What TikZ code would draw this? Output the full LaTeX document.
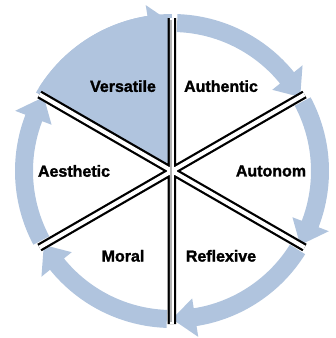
\documentclass[tikz,border=0pt]{standalone}
\usepackage{fontspec}
\setmainfont{Liberation Sans}
\newfontfamily\heavyfont{Liberation Sans}[BoldFeatures={FakeBold=1.6}]
\usetikzlibrary{calc}
\definecolor{ringblue}{RGB}{176,196,222}
\tikzset{
  sectorlabel/.style={font=\fontsize{16}{18}\selectfont\heavyfont\bfseries, inner sep=0pt},
  spokeout/.style={draw=black, line width=8.5},
  spokein/.style={draw=white, line width=4},
}

\begin{document}
\begin{tikzpicture}[x=1pt,y=1pt]
            \useasboundingbox (-172,-167) rectangle (164,171);
            \coordinate (c) at (0,0);
            \foreach \t/\n in {90/n,30/ne,-30/se,-90/s,-150/sw,150/nw} \coordinate (\n) at ($(c)+(\t:153)$);
            % shaded sector
            \fill[ringblue] (c) -- (90:157) arc[start angle=90, end angle=150, radius=157] -- cycle;
            % ring of arrows
            \foreach \a in {90,30,-30,-90,-150,-210} {
                \pgfmathsetmacro\b{\a-60}
                \fill[ringblue] (\a-2:139) arc[start angle=\a-2, end angle=\b+9, radius=139] -- (\b+9:129) -- (\b:148) -- (\b+9:168) -- (\b+9:157) arc[start angle=\b+9, end angle=\a-2, radius=157] -- cycle;
            }
            % spokes
            \draw[spokeout] (n) -- (s) (ne) -- (sw) (se) -- (nw);
            \fill[white] (c) circle (5);
            \draw[spokein] (n) -- (s) (ne) -- (sw) (se) -- (nw);
            \draw[gray!60, line width=1.5] ($(n)+(-1,-2)$) -- ($(s)+(-1,2)$);
            \node[sectorlabel] (versatile) at (120:98) {Versatile};
            \node[sectorlabel] (authentic) at (60:98) {Authentic};
            \node[sectorlabel] (autonom) at (0:99) {Autonom};
            \node[sectorlabel] (reflexive) at (-60:98) {Reflexive};
            \node[sectorlabel] (moral) at (-120:98) {Moral};
            \node[sectorlabel] (aesthetic) at (180:98) {Aesthetic};
        \end{tikzpicture}
\end{document}
